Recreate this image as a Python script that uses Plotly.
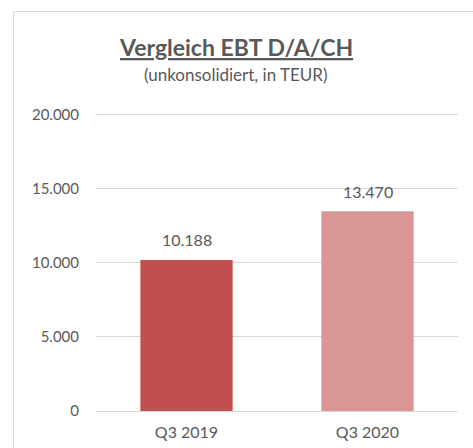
import plotly.graph_objects as go

categories = ["Q3 2019", "Q3 2020"]
values = [10188, 13470]
bar_colors = ["#C0504D", "#D99694"]
tick_vals = [0, 5000, 10000, 15000, 20000]

W, H = 473, 448
L, R, T, B = 96, 15, 107, 37
pw, ph = W - L - R, H - T - B
YMAX = 20500

def px_x(x):
    return (x - L) / pw

def px_y(y):
    return (H - B - y) / ph

FONT = "Lato, Open Sans, sans-serif"
TXT = "#595959"

fig = go.Figure(go.Bar(
    x=categories, y=values,
    marker=dict(color=bar_colors, line=dict(width=0)),
    width=0.51,
    hoverinfo="skip",
))

for c, v in zip(categories, values):
    fig.add_annotation(x=c, y=v, xref="x", yref="y", text=f"{v:,}".replace(",", "."),
                       showarrow=False, yshift=20, yanchor="middle",
                       font=dict(size=16, color=TXT, family=FONT))

fig.update_layout(
    width=W, height=H,
    margin=dict(l=L, r=R, t=T, b=B, pad=0),
    paper_bgcolor="white", plot_bgcolor="white",
    separators=",.",
    showlegend=False,
    font=dict(family=FONT, color=TXT, size=15),
    xaxis=dict(showgrid=False, showline=False, ticks="", ticklabelstandoff=10,
               automargin=False, tickfont=dict(size=16, color=TXT)),
    yaxis=dict(range=[0, YMAX], tickvals=tick_vals, tickformat=",.0f",
               showgrid=True, gridcolor="#D9D9D9", gridwidth=1,
               zeroline=True, zerolinecolor="#D9D9D9", zerolinewidth=1,
               showline=False, ticks="", ticklabelstandoff=16,
               automargin=False, tickfont=dict(size=15, color=TXT)),
)

fig.add_shape(type="rect", xref="paper", yref="paper",
              x0=px_x(13.5), x1=px_x(480), y0=px_y(460), y1=px_y(11.5),
              line=dict(color="#D9D9D9", width=1), fillcolor="rgba(0,0,0,0)", layer="below")

fig.add_annotation(xref="paper", yref="paper", x=px_x(236), y=px_y(47),
                   text="<b><u>Vergleich EBT D/A/CH</u></b>", showarrow=False,
                   xanchor="center", yanchor="middle",
                   font=dict(size=23, color=TXT, family=FONT))
fig.add_annotation(xref="paper", yref="paper", x=px_x(236), y=px_y(74),
                   text="(unkonsolidiert, in TEUR)", showarrow=False,
                   xanchor="center", yanchor="middle",
                   font=dict(size=17, color=TXT, family=FONT))

fig.write_html("out.html")
